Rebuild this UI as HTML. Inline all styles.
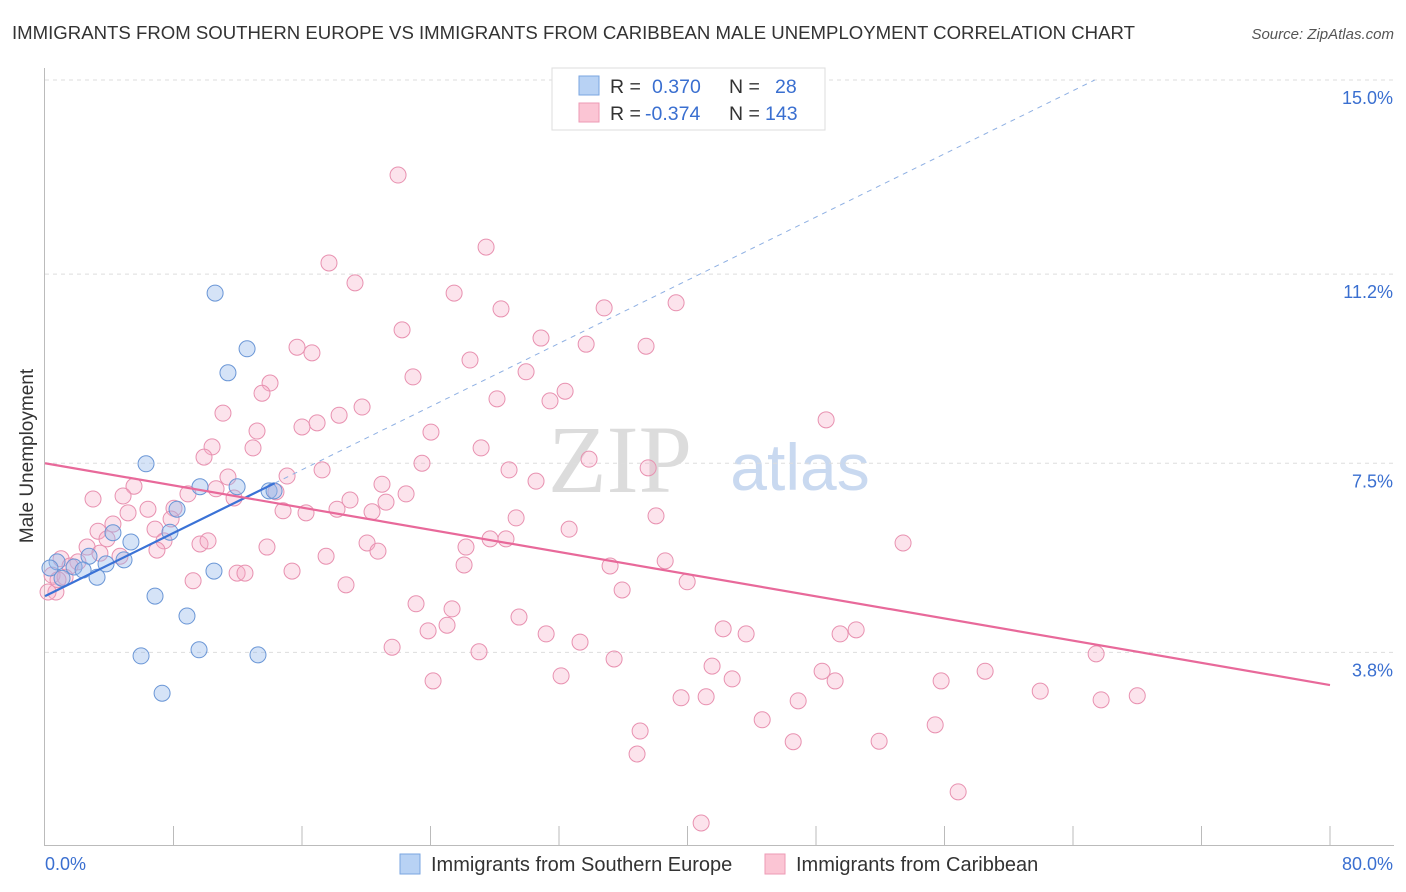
<!DOCTYPE html>
<html><head><meta charset="utf-8"><style>
body{margin:0;background:#fff;font-family:"Liberation Sans",sans-serif}
svg{display:block}
</style></head><body>
<svg id="chart" width="1406" height="892" font-family="Liberation Sans, sans-serif">
<text x="12" y="39" font-size="18.6" fill="#333">IMMIGRANTS FROM SOUTHERN EUROPE VS IMMIGRANTS FROM CARIBBEAN MALE UNEMPLOYMENT CORRELATION CHART</text>
<text x="1394" y="39" font-size="15" fill="#555" font-style="italic" text-anchor="end">Source: ZipAtlas.com</text>
<text x="620" y="492" font-size="96" fill="#dcdcdc" font-family="Liberation Serif, serif" text-anchor="middle">ZIP</text>
<text x="800" y="490" font-size="66" fill="#c9d9f0" text-anchor="middle">atlas</text>
<g id="grid"></g>
<g id="axes"></g>
<g id="points"></g>
<g id="trends"></g>
<text x="33" y="456" font-size="19" fill="#333" text-anchor="middle" transform="rotate(-90 33 456)">Male Unemployment</text>
<g>
<rect x="552" y="68" width="273" height="62" fill="#fff" stroke="#ddd"/>
<rect x="579" y="76" width="20" height="19" fill="#b8d2f4" stroke="#7aa6e0"/>
<rect x="579" y="103" width="20" height="19" fill="#fbc5d4" stroke="#ee9ab5"/>
<text x="610" y="93" font-size="19.5" fill="#333">R =</text><text x="652" y="93" font-size="19.5" fill="#3a6fd0">0.370</text>
<text x="729" y="93" font-size="19.5" fill="#333">N =</text><text x="775" y="93" font-size="19.5" fill="#3a6fd0">28</text>
<text x="610" y="120" font-size="19.5" fill="#333">R =</text><text x="645" y="120" font-size="19.5" fill="#3a6fd0">-0.374</text>
<text x="729" y="120" font-size="19.5" fill="#333">N =</text><text x="765" y="120" font-size="19.5" fill="#3a6fd0">143</text>
</g>
<g>
<rect x="400" y="854" width="20" height="20" fill="#b8d2f4" stroke="#7aa6e0"/>
<text x="431" y="871" font-size="20" fill="#333">Immigrants from Southern Europe</text>
<rect x="765" y="854" width="20" height="20" fill="#fbc5d4" stroke="#ee9ab5"/>
<text x="796" y="871" font-size="20" fill="#333">Immigrants from Caribbean</text>
</g>
</svg>
<script>
const yTicks=[15.0,11.2,7.5,3.8];
const yTickLabels=["15.0%","11.2%","7.5%","3.8%"];
const xTickLabels=["0.0%","80.0%"];
const blueX=[10.59,12.58,11.39,6.29,9.65,11.96,13.95,14.26,8.22,4.23,5.35,7.78,2.74,3.80,4.92,0.75,1.81,2.37,1.06,3.24,10.52,6.85,8.84,5.98,9.59,13.26,7.29,0.31];
const blueY=[10.83,9.74,9.27,7.49,7.04,7.04,6.96,6.96,6.60,6.14,5.96,6.15,5.68,5.53,5.61,5.57,5.47,5.41,5.25,5.27,5.39,4.90,4.51,3.73,3.85,3.75,3.00,5.45];
const pinkX=[21.98,27.46,17.68,19.30,25.47,28.39,34.81,39.29,22.23,30.88,33.69,37.42,15.69,16.62,26.46,29.95,22.91,14.01,13.51,32.38,28.14,31.44,19.74,11.08,18.31,48.63,16.94,16.00,13.20,24.03,10.40,27.15,12.95,9.90,33.87,23.47,17.25,28.89,37.55,11.39,30.57,20.98,15.07,5.54,10.65,8.90,2.99,4.86,14.38,22.48,18.99,11.77,21.23,6.41,8.03,18.18,5.17,14.82,16.25,20.36,29.33,38.04,7.85,4.23,6.85,3.30,32.63,3.86,7.41,9.65,10.15,13.82,27.71,28.70,20.05,20.73,26.21,17.50,53.42,2.62,3.42,6.97,4.67,1.00,2.05,38.61,26.09,35.18,15.38,9.22,11.96,12.45,18.74,39.98,35.93,0.68,0.19,23.10,25.34,29.51,25.03,23.85,42.22,43.65,31.20,33.31,50.50,49.50,21.61,27.02,35.43,41.53,65.44,32.13,42.78,48.38,58.53,24.16,49.19,55.79,61.96,39.60,41.16,46.89,68.00,65.75,44.65,55.42,37.05,51.93,46.58,36.86,56.85,40.85,1.56,0.44,1.25,0.81];
const pinkY=[13.14,11.73,11.42,11.03,10.83,10.52,10.54,10.64,10.11,9.95,9.83,9.79,9.77,9.66,9.52,9.29,9.19,9.07,8.87,8.91,8.76,8.72,8.60,8.48,8.44,8.35,8.29,8.21,8.13,8.11,7.82,7.80,7.80,7.62,7.58,7.50,7.37,7.37,7.41,7.23,7.15,7.09,7.25,7.05,7.00,6.90,6.80,6.86,6.94,6.90,6.78,6.82,6.74,6.60,6.62,6.60,6.53,6.57,6.53,6.55,6.43,6.47,6.41,6.31,6.21,6.17,6.21,6.02,5.98,5.92,5.98,5.86,6.02,6.02,5.94,5.78,5.86,5.68,5.94,5.86,5.74,5.80,5.68,5.63,5.57,5.59,5.51,5.49,5.39,5.20,5.35,5.35,5.12,5.18,5.02,4.98,4.98,4.75,4.65,4.49,4.33,4.22,4.26,4.16,4.16,4.00,4.24,4.16,3.90,3.81,3.67,3.53,3.77,3.34,3.28,3.43,3.43,3.24,3.24,3.24,3.04,2.91,2.93,2.85,2.95,2.87,2.48,2.38,2.26,2.06,2.05,1.81,1.07,0.46,5.49,5.31,5.27,5.22];
const blueTrend=[4.90,7.11];
const blueTrendX=[0,14.3];
const pinkTrend=[7.50,3.16];
const NS='http://www.w3.org/2000/svg';
const sx=v=>45+v/80*1285;
const sy=v=>80+(15-v)*51.1;
function mk(tag,attrs,parent){const e=document.createElementNS(NS,tag);for(const k in attrs)e.setAttribute(k,attrs[k]);parent.appendChild(e);return e;}
const grid=document.getElementById('grid'),axes=document.getElementById('axes'),pts=document.getElementById('points'),tr=document.getElementById('trends');
yTicks.forEach((t,i)=>{
  const l=mk('line',{x1:45,x2:1394,y1:sy(t),y2:sy(t),stroke:'#ddd','stroke-dasharray':'4,4'},grid);
  
  
  const tx=mk('text',{x:1393,y:sy(t)+24,'font-size':18,fill:'#3a6fd0','text-anchor':'end'},axes);
  tx.textContent=yTickLabels[i];
  
  
});
const ax=mk('path',{d:`M44.5 68V845.5H1394`,stroke:'#bbb',fill:'none'},axes);


for(let i=1;i<=10;i++){
  const t=mk('line',{x1:sx(i*8),x2:sx(i*8),y1:826,y2:845,stroke:'#bbb'},axes);
  
  
}
[[0,'start',45],[1,'end',1393]].forEach(([i,a,x])=>{
  const tx=mk('text',{x:x,y:870,'font-size':18,fill:'#3a6fd0','text-anchor':a},axes);
  tx.textContent=xTickLabels[i];
  
  
});
pinkX.forEach((x,i)=>{
  const c=mk('circle',{cx:sx(x),cy:sy(pinkY[i]),r:8,fill:'rgba(246,170,196,0.33)',stroke:'#e891b0','stroke-width':1},pts);
  
  
});
blueX.forEach((x,i)=>{
  const c=mk('circle',{cx:sx(x),cy:sy(blueY[i]),r:8,fill:'rgba(150,185,235,0.4)',stroke:'#6a96d6','stroke-width':1},pts);
  
  
});
const slope=(blueTrend[1]-blueTrend[0])/(blueTrendX[1]-blueTrendX[0]);
const xEnd=(15-blueTrend[0])/slope;
const bd=mk('line',{x1:sx(blueTrendX[1]),y1:sy(blueTrend[1]),x2:sx(xEnd),y2:sy(15),stroke:'#8fb0e3','stroke-width':1,'stroke-dasharray':'5,5'},tr);


const bl=mk('line',{x1:sx(blueTrendX[0]),y1:sy(blueTrend[0]),x2:sx(blueTrendX[1]),y2:sy(blueTrend[1]),stroke:'#3a72d6','stroke-width':2.2},tr);


const pl=mk('line',{x1:sx(0),y1:sy(pinkTrend[0]),x2:sx(80),y2:sy(pinkTrend[1]),stroke:'#e8699a','stroke-width':2.2},tr);


</script>
</body></html>
